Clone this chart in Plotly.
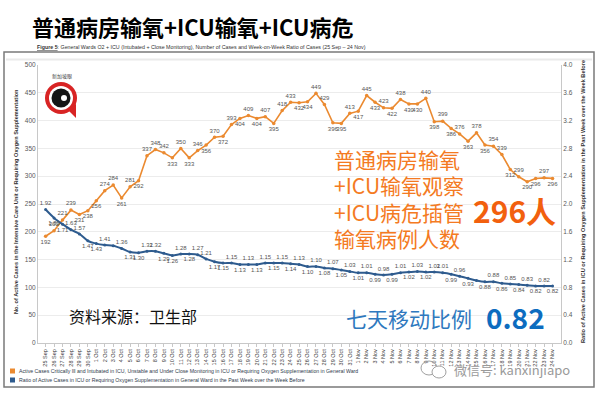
import plotly.graph_objects as go

# ---------------- data ----------------
dates = ([f"{d} Sep" for d in range(25, 31)] +
         [f"{d} Oct" for d in range(1, 32)] +
         [f"{d} Nov" for d in range(1, 25)])

icu_o2_cases = [192, 202, 221, 239, 231, 238, 256, 274, 284, 261, 281, 292, 337, 348, 342,
                333, 350, 333, 346, 356, 370, 372, 393, 404, 409, 404, 407, 395, 418, 433,
                432, 434, 449, 429, 396, 395, 413, 417, 445, 433, 423, 422, 438, 430, 430,
                440, 398, 399, 386, 376, 363, 378, 356, 354, 339, 312, 299, 290, 296, 297, 296]

wow_ratio = [1.92, 1.80, 1.71, 1.63, 1.57, 1.47, 1.43, 1.41, 1.40, 1.36, 1.31, 1.30, 1.32,
             1.32, 1.29, 1.26, 1.28, 1.28, 1.27, 1.21, 1.17, 1.15, 1.15, 1.13, 1.13, 1.13,
             1.15, 1.15, 1.15, 1.14, 1.13, 1.10, 1.10, 1.08, 1.07, 1.05, 1.03, 1.01, 1.01,
             0.99, 0.98, 0.99, 1.01, 1.02, 1.03, 1.02, 1.02, 1.01, 0.99, 0.96, 0.93, 0.90,
             0.88, 0.88, 0.86, 0.85, 0.84, 0.83, 0.82, 0.82, 0.82]

# label placement styles (a = above, b = below, - = no label)
orange_label_style = ("baaabbbaab" "abaaababab" "ababababaa" "bbaabbabab"
                      "ababbababa" "babaababbab")
blue_label_style = ("abbaabba" "-" "abbaabbabaab" + "ba" * 13 + "abab" "-" "babababab")

# ---------------- geometry helpers ----------------
W, H = 602, 396
L, R, T, B = 38, 41, 65, 53
PW, PH = W - L - R, H - T - B


def fx(px):
    return (px - L) / PW


def fy(py):
    return (H - B - py) / PH


pos_map = {"a": "top center", "b": "bottom center", "-": "top center"}

x_idx = list(range(len(dates)))

orange_text = [str(v) for v in icu_o2_cases]
orange_pos = [pos_map[c] for c in orange_label_style]
blue_text = [("" if c == "-" else f"{v:.2f}") for v, c in zip(wow_ratio, blue_label_style)]
blue_pos = [pos_map[c] for c in blue_label_style]

ORANGE = "#EB8A30"
BLUE = "#2E5B8E"
LABEL = "#555555"

fig = go.Figure()
fig.add_trace(go.Scatter(
    x=x_idx, y=icu_o2_cases, mode="lines+markers+text",
    text=orange_text, textposition=orange_pos,
    textfont=dict(size=6, color=LABEL, family="Liberation Sans"),
    line=dict(color=ORANGE, width=1.6), marker=dict(color=ORANGE, size=3.5),
    cliponaxis=False, hoverinfo="skip"))
fig.add_trace(go.Scatter(
    x=x_idx, y=wow_ratio, yaxis="y2", mode="lines+markers+text",
    text=blue_text, textposition=blue_pos,
    textfont=dict(size=6, color=LABEL, family="Liberation Sans"),
    line=dict(color=BLUE, width=2, shape="spline", smoothing=0.8),
    marker=dict(color=BLUE, size=3),
    cliponaxis=False, hoverinfo="skip"))

AX = "#C8C8C8"
fig.update_layout(
    width=W, height=H, margin=dict(l=L, r=R, t=T, b=B),
    paper_bgcolor="white", plot_bgcolor="white", showlegend=False,
    font=dict(family="Liberation Sans, Noto Sans CJK SC", color="#404040"),
    xaxis=dict(range=[-0.9, 61], tickmode="array", tickvals=x_idx, ticktext=dates,
               tickangle=-90, tickfont=dict(size=5.5, color="#404040"),
               showline=True, linecolor=AX, ticks="outside", ticklen=3, tickcolor=AX,
               showgrid=False, zeroline=False, automargin=False),
    yaxis=dict(range=[0, 500], tick0=0, dtick=50, showgrid=True, gridcolor="#ECECEC",
               tickfont=dict(size=6.5, color="#595959"), showline=True, linecolor=AX,
               zeroline=False, ticks="", automargin=False),
    yaxis2=dict(range=[0, 4], tick0=0, dtick=0.4, tickformat=".1f", overlaying="y",
                side="right", showgrid=False, showline=True, linecolor=AX,
                tickfont=dict(size=6.5, color="#595959"), zeroline=False,
                automargin=False),
)

CJK = "Noto Sans CJK SC"
ann = []


def add_text(text, px, py, size, color, family=CJK, xanchor="left", yanchor="middle",
             angle=0):
    ann.append(dict(text=text, x=fx(px), y=fy(py), xref="paper", yref="paper",
                    showarrow=False, xanchor=xanchor, yanchor=yanchor, textangle=angle,
                    font=dict(size=size, color=color, family=family)))


add_text("<b>普通病房输氧+ICU输氧+ICU病危</b>", 30, 26, 22, "#000000")
add_text("<b><u>Figure 5</u></b>: General Wards O2 + ICU (Intubated + Close Monitoring), "
         "Number of Cases and Week-on-Week Ratio of Cases (25 Sep – 24 Nov)",
         35, 47, 5.3, "#333333", family="Liberation Sans")
add_text("<b>No. of Active Cases in the Intensive Care Unit or Requiring Oxygen Supplementation</b>",
         16, 202, 5.6, "#333333", family="Liberation Sans", xanchor="center", angle=-90)
add_text("<b>Ratio of Active Cases in ICU or Requiring Oxygen Supplementation in the Past Week over the Week Before</b>",
         583, 202, 5.6, "#333333", family="Liberation Sans", xanchor="center", angle=-90)

OR_TXT = "#F47A22"
for i, line in enumerate(["普通病房输氧", "+ICU输氧观察", "+ICU病危插管", "输氧病例人数"]):
    add_text(line, 332, 159 + i * 26.3, 21, OR_TXT)
add_text("<b>296人</b>", 471, 210, 30, "#F2600E")
add_text("资料来源：卫生部", 67, 316, 16, "#111111")
add_text("七天移动比例", 344, 318, 21, "#2E78BE")
add_text("<b>0.82</b>", 484, 317, 28, "#0D6CBF")

legend_items = [
    (ORANGE, "Active Cases Critically Ill and Intubated in ICU, Unstable and Under Close Monitoring in ICU or Requiring Oxygen Supplementation in General Ward", 371),
    (BLUE, "Ratio of Active Cases in ICU or Requiring Oxygen Supplementation in General Ward in the Past Week over the Week Before", 380),
]
shapes = []
for col, txt, py in legend_items:
    add_text(txt, 17, py, 5.2, "#2F3B4C", family="Liberation Sans")
    shapes.append(dict(type="rect", xref="paper", yref="paper",
                       x0=fx(10), x1=fx(15), y0=fy(py + 2.5), y1=fy(py - 2.5),
                       fillcolor=col, line=dict(width=0)))

add_text("微信号: kanxinjiapo", 452, 369, 13, "#9A9A9A")
add_text("新加坡眼", 62, 76, 5, "#444444", xanchor="center")

# outer frame
shapes.append(dict(type="rect", xref="paper", yref="paper", x0=fx(4), x1=fx(594),
                   y0=fy(387), y1=fy(52), line=dict(color="#7A7A7A", width=1.5),
                   layer="below"))
shapes.append(dict(type="line", xref="paper", yref="paper", x0=fx(6), x1=fx(592),
                   y0=fy(59.5), y1=fy(59.5), line=dict(color="#EAEAEA", width=2)))

# logo
def circ(cx, cy, r, fill, line_col=None, lw=0):
    return dict(type="circle", xref="paper", yref="paper", x0=fx(cx - r), x1=fx(cx + r),
                y0=fy(cy + r), y1=fy(cy - r), fillcolor=fill,
                line=dict(color=line_col or fill, width=lw))

shapes.append(dict(type="path", xref="paper", yref="paper",
                   path=f"M {fx(66)} {fy(108)} L {fx(76)} {fy(118)} L {fx(76)} {fy(104)} Z",
                   fillcolor="#D82424", line=dict(width=0)))
shapes.append(circ(61, 98, 16, "#D82424"))
shapes.append(circ(61, 98, 12, "#FFFFFF"))
shapes.append(circ(61, 98, 9.5, "#151515"))
shapes.append(circ(64, 98, 3, "#FFFFFF"))

# wechat icon
shapes.append(dict(type="circle", xref="paper", yref="paper", x0=fx(421), x1=fx(437),
                   y0=fy(375), y1=fy(361), line=dict(color="#A0A0A0", width=1)))
shapes.append(dict(type="circle", xref="paper", yref="paper", x0=fx(432), x1=fx(446),
                   y0=fy(378), y1=fy(366), line=dict(color="#A0A0A0", width=1),
                   fillcolor="white"))

fig.update_layout(annotations=ann, shapes=shapes)
fig.write_html("out.html", config={"displayModeBar": False},
               post_script="document.body.style.margin='0';document.body.style.padding='0';")
